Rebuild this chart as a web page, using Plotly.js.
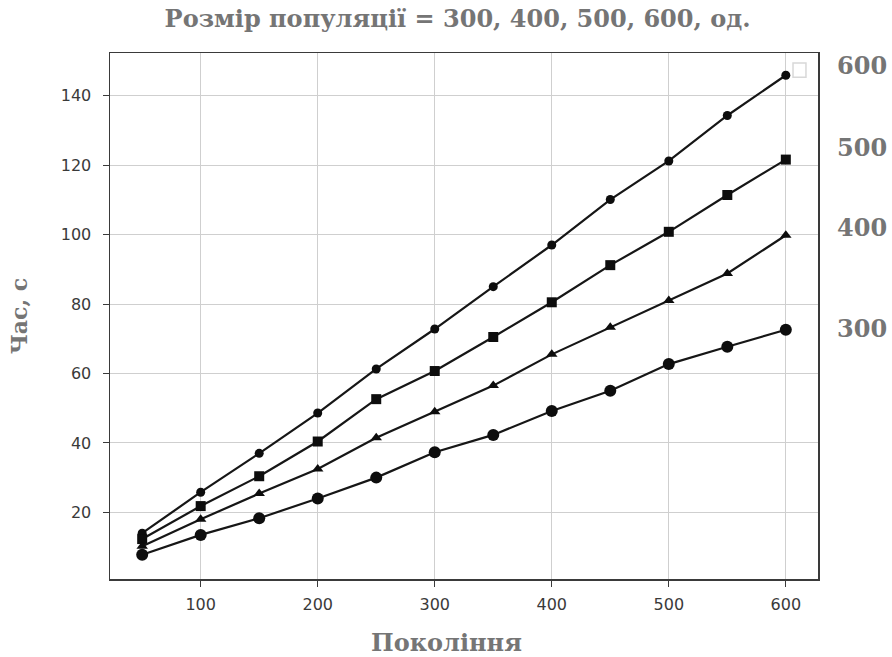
<!DOCTYPE html>
<html>
<head>
<meta charset="utf-8">
<script src="https://cdn.plot.ly/plotly-3.0.1.min.js"></script>
<style>html,body{margin:0;padding:0;background:#fff;}#chart{width:892px;height:657px;}</style>
</head>
<body>
<div id="chart"></div>
<script>
const generations = [50, 100, 150, 200, 250, 300, 350, 400, 450, 500, 550, 600];
const pop600 = [14, 25.8, 37, 48.6, 61.3, 72.8, 85, 97, 110.1, 121.2, 134.3, 145.9];
const pop500 = [12.3, 21.8, 30.4, 40.4, 52.6, 60.7, 70.5, 80.5, 91.2, 100.8, 111.4, 121.6];
const pop400 = [10.2, 18, 25.4, 32.5, 41.5, 49, 56.5, 65.5, 73.3, 81, 88.8, 99.8];
const pop300 = [7.8, 13.5, 18.3, 24, 30, 37.3, 42.3, 49.2, 55, 62.7, 67.7, 72.6];
const sideLabels = ['600', '500', '400', '300'];
const sideLabelY = [0.977, 0.820, 0.668, 0.477];

const lineStyle = {color: '#161616', width: 2.2};
function trace(y, symbol, size) {
  return {x: generations, y: y, type: 'scatter', mode: 'lines+markers',
    line: lineStyle, marker: {symbol: symbol, size: size, color: '#0d0d0d'}, showlegend: false};
}
const data = [
  trace(pop600, 'circle', 9),
  trace(pop500, 'square', 10),
  trace(pop400, 'triangle-up', 10),
  trace(pop300, 'circle', 12)
];

const serifGray = {family: 'DejaVu Serif, serif', color: '#757575'};
const annotations = sideLabels.map((t, i) => ({
  text: '<b>' + t + '</b>', xref: 'paper', yref: 'paper', x: 1.062, y: sideLabelY[i],
  xanchor: 'center', yanchor: 'middle', showarrow: false,
  font: Object.assign({size: 24}, serifGray)
}));
annotations.push({
  text: '<b>Покоління</b>', xref: 'paper', yref: 'paper', x: 0.4746, y: -0.12,
  xanchor: 'center', yanchor: 'middle', showarrow: false,
  font: Object.assign({size: 24}, serifGray)
});

const tickFont = {family: 'DejaVu Sans, sans-serif', size: 16, color: '#3a3a3a'};
const layout = {
  width: 892, height: 657,
  margin: {l: 110, r: 74, t: 53, b: 78},
  paper_bgcolor: '#fff', plot_bgcolor: '#fff',
  title: {text: '<b>Розмір популяції = 300, 400, 500, 600, од.</b>',
    x: 0.513, xanchor: 'center', y: 0.972, yanchor: 'middle',
    font: Object.assign({size: 24}, serifGray)},
  xaxis: {range: [22.5, 627.5], tickvals: [100, 200, 300, 400, 500, 600],
    showgrid: true, gridcolor: '#cfcfcf', gridwidth: 1, zeroline: false,
    showline: true, linecolor: '#3a3a3a', linewidth: 1.5, mirror: true,
    ticks: 'outside', ticklen: 6, tickcolor: '#3a3a3a', ticklabelstandoff: 4,
    tickfont: tickFont},
  yaxis: {range: [0.8, 152.3], tickvals: [20, 40, 60, 80, 100, 120, 140],
    showgrid: true, gridcolor: '#cfcfcf', gridwidth: 1, zeroline: false,
    showline: true, linecolor: '#3a3a3a', linewidth: 1.5, mirror: true,
    ticks: 'outside', ticklen: 6, tickcolor: '#3a3a3a', ticklabelstandoff: 8,
    tickfont: tickFont,
    title: {text: '<b>Час, с</b>', standoff: 27, font: Object.assign({size: 22}, serifGray)}},
  annotations: annotations,
  shapes: [{type: 'rect', xref: 'paper', yref: 'paper', x0: 0.9647, x1: 0.983, y0: 0.954, y1: 0.981,
    line: {color: '#d8d8d8', width: 1.5}, fillcolor: 'rgba(255,255,255,0)'}]
};

Plotly.newPlot('chart', data, layout, {displayModeBar: false, staticPlot: true});
</script>
</body>
</html>
